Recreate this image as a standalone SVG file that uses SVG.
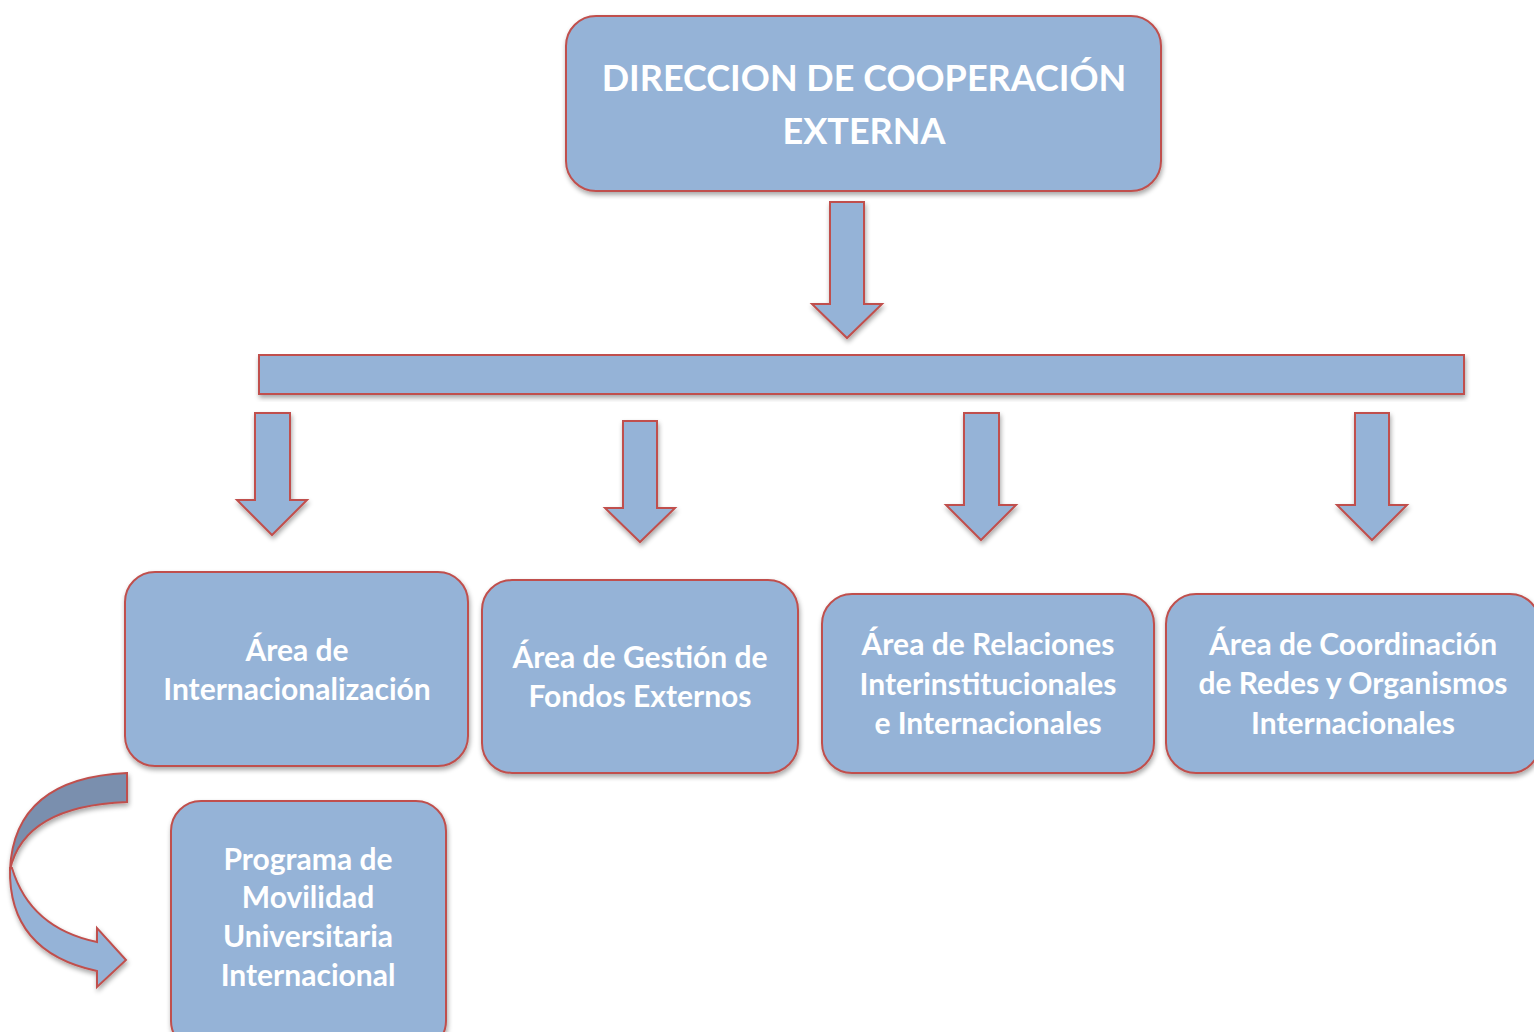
<svg xmlns="http://www.w3.org/2000/svg" width="1534" height="1032" viewBox="0 0 1534 1032">
<defs>
<filter id="sh" x="-10%" y="-10%" width="130%" height="130%">
<feGaussianBlur in="SourceAlpha" stdDeviation="2.5"/>
<feOffset dx="1" dy="3" result="b"/>
<feComponentTransfer><feFuncA type="linear" slope="0.35"/></feComponentTransfer>
<feMerge><feMergeNode/><feMergeNode in="SourceGraphic"/></feMerge>
</filter>
<style>
.s{fill:#95B3D7;stroke:#C0504D;stroke-width:2;filter:url(#sh)}
.d{fill:#7A8FAE;stroke:#C0504D;stroke-width:2}
.l{fill:#95B3D7;stroke:#C0504D;stroke-width:2}
text{font-family:Lato,"Open Sans","Liberation Sans",sans-serif;font-weight:bold;fill:#FFFFFF;text-anchor:middle}
.t{font-size:36px}
.n{font-size:30px}
</style>
</defs>
<rect width="1534" height="1032" fill="#FFFFFF"/>
<g id="connectors">
<path class="s" d="M830,202 H864 V304 H882 L847,338 L812,304 H830 Z"/>
<rect id="bar" class="s" x="259" y="355" width="1205" height="39"/>
<path class="s" d="M255,413 H290 V500 H307 L272,535 L237,500 H255 Z"/>
<path class="s" d="M623,421 H657 V508 H675 L640,542 L605,508 H623 Z"/>
<path class="s" d="M964,413 H999 V505 H1016 L981,540 L946,505 H964 Z"/>
<path class="s" d="M1355,413 H1389 V505 H1407 L1372,540 L1337,505 H1355 Z"/>
<g id="curved-arrow" filter="url(#sh)">
<path class="l" d="M10,868 Q8,952 97,971 L97,987 L126,960 L97,928 L97,942 Q30,928 12,868 Z"/>
<path class="d" d="M127,773 Q14,778 10,870 Q24,806 127,802 Z"/>
</g>
</g>
<g id="node-direccion">
<rect class="s" x="566" y="16" width="595" height="175" rx="30"/>
<text class="t" x="864" y="91">DIRECCION DE COOPERACIÓN</text>
<text class="t" x="864" y="144">EXTERNA</text>
</g>
<g id="node-internacionalizacion">
<rect class="s" x="125" y="572" width="343" height="194" rx="30"/>
<text class="n" x="297" y="661">Área de</text>
<text class="n" x="297" y="700">Internacionalización</text>
</g>
<g id="node-gestion">
<rect class="s" x="482" y="580" width="316" height="193" rx="30"/>
<text class="n" x="640" y="668">Área de Gestión de</text>
<text class="n" x="640" y="707">Fondos Externos</text>
</g>
<g id="node-relaciones">
<rect class="s" x="822" y="594" width="332" height="179" rx="30"/>
<text class="n" x="988" y="655">Área de Relaciones</text>
<text class="n" x="988" y="695">Interinstitucionales</text>
<text class="n" x="988" y="734">e Internacionales</text>
</g>
<g id="node-coordinacion">
<rect class="s" x="1166" y="594" width="374" height="179" rx="30"/>
<text class="n" x="1353" y="655">Área de Coordinación</text>
<text class="n" x="1353" y="694">de Redes y Organismos</text>
<text class="n" x="1353" y="734">Internacionales</text>
</g>
<g id="node-programa">
<rect class="s" x="171" y="801" width="275" height="250" rx="30"/>
<text class="n" x="308" y="870">Programa de</text>
<text class="n" x="308" y="908">Movilidad</text>
<text class="n" x="308" y="947">Universitaria</text>
<text class="n" x="308" y="986">Internacional</text>
</g>
</svg>
